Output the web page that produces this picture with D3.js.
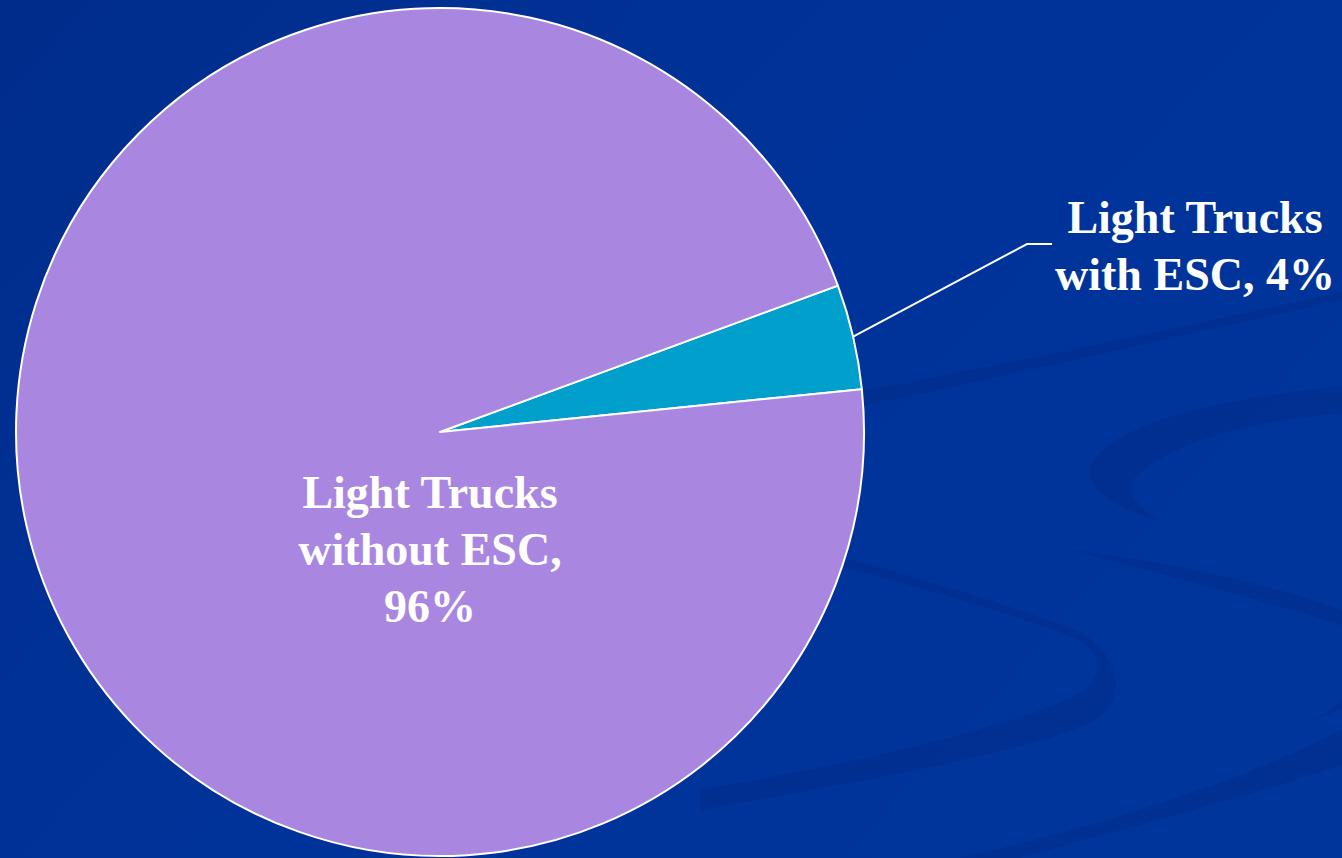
<!DOCTYPE html>
<html>
<head>
<meta charset="utf-8">
<script src="https://cdn.jsdelivr.net/npm/d3@7"></script>
<style>
  html, body { margin: 0; padding: 0; background: #00339a; overflow: hidden; }
  .lbl { font-family: "Liberation Serif", "Times New Roman", serif; font-weight: bold; fill: #fff; }
</style>
</head>
<body>
<svg id="chart"></svg>
<script>
const categories = ["Light Trucks with ESC", "Light Trucks without ESC"];
const values = [4, 96];
const labelLines = [["Light Trucks", "with ESC, 4%"], ["Light Trucks", "without ESC,", "96%"]];
const colors = ["#009fcc", "#a987e1"];

const width = 1342, height = 858;
const cx = 440, cy = 432, radius = 424;
const fontSize = 46, lineH = 57;

const svg = d3.select("#chart").attr("width", width).attr("height", height);

// background and decorative swooshes
const defs = svg.append("defs");
const grad = defs.append("linearGradient").attr("id", "bg")
    .attr("x1", "0").attr("y1", "0").attr("x2", "1").attr("y2", "0.6");
grad.append("stop").attr("offset", "0").attr("stop-color", "#002d8c");
grad.append("stop").attr("offset", "0.6").attr("stop-color", "#00339a");
grad.append("stop").attr("offset", "1").attr("stop-color", "#00359c");
svg.append("rect").attr("width", width).attr("height", height).attr("fill", "url(#bg)");

const swooshes = [
    "M700,420 C900,385 1080,350 1342,292 L1342,300 C1160,340 950,390 700,440 Z",
    "M1342,386 C1230,398 1110,420 1090,468 C1085,490 1120,510 1157,520 C1135,505 1125,490 1135,478 C1170,440 1260,420 1342,413 Z",
    "M700,520 C860,560 1000,600 1080,632 C1125,660 1125,700 1095,720 C1040,748 900,775 700,810 L700,790 C900,755 1040,718 1085,690 C1105,672 1100,650 1075,638 C1000,608 860,570 700,530 Z",
    "M1075,550 C1150,560 1260,580 1342,610 L1342,625 C1260,600 1150,570 1075,552 Z",
    "M1342,700 C1330,712 1318,718 1307,721 C1320,718 1335,712 1342,708 Z",
    "M960,858 C1080,830 1220,792 1342,730 L1342,765 C1220,805 1100,835 1020,858 Z"
];
svg.append("g").selectAll("path").data(swooshes).join("path")
    .attr("d", d => d)
    .attr("fill", "#002b86")
    .attr("opacity", 0.45);

// pie
const pie = d3.pie().sort(null)
    .startAngle(69.8 * Math.PI / 180)
    .endAngle(69.8 * Math.PI / 180 + 2 * Math.PI);
const arcs = pie(values);
const arc = d3.arc().innerRadius(0).outerRadius(radius);

const g = svg.append("g").attr("transform", `translate(${cx},${cy})`);
g.selectAll("path.slice").data(arcs).join("path")
    .attr("class", "slice")
    .attr("d", arc)
    .attr("fill", (d, i) => colors[i])
    .attr("stroke", "#fff")
    .attr("stroke-width", 2)
    .attr("stroke-linejoin", "round");

// leader line for the small slice
const small = arcs[0];
const mid = (small.startAngle + small.endAngle) / 2;
const p0 = [Math.sin(mid) * radius, -Math.cos(mid) * radius];
const p1 = [1027 - cx, 244 - cy];
const p2 = [1052 - cx, 244 - cy];
g.append("path")
    .attr("d", d3.line()([p0, p1, p2]))
    .attr("fill", "none")
    .attr("stroke", "#fff")
    .attr("stroke-width", 2);

function addLabel(lines, x, y) {
    const t = svg.append("text").attr("class", "lbl")
        .attr("text-anchor", "middle")
        .attr("font-size", fontSize);
    lines.forEach((s, i) => {
        t.append("tspan").attr("x", x).attr("y", y + i * lineH).text(s);
    });
}
addLabel(labelLines[0], 1195, 233);
addLabel(labelLines[1], 430, 508);
</script>
</body>
</html>
